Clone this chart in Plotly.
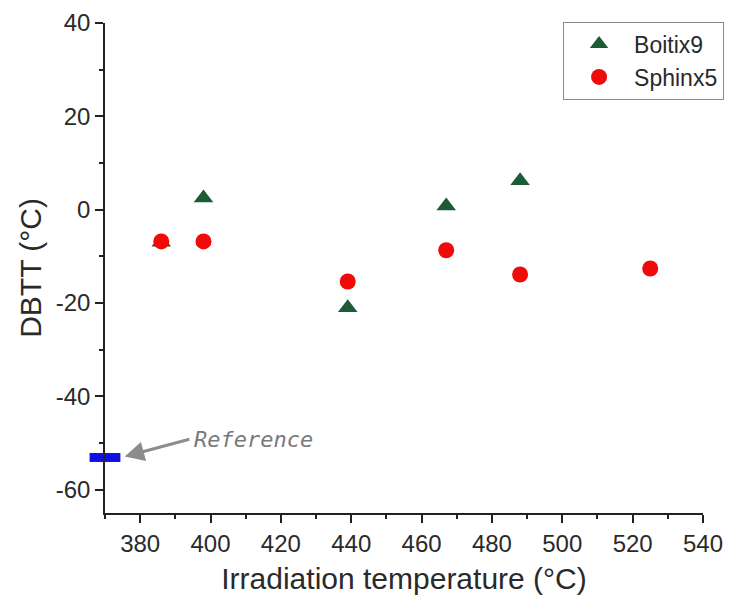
import plotly.graph_objects as go

# Data
boitix_temp = [386, 398, 439, 467, 488]
boitix_dbtt = [-7.0, 2.5, -21.0, 0.8, 6.2]

sphinx_temp = [386, 398, 439, 467, 488, 525]
sphinx_dbtt = [-6.8, -6.8, -15.4, -8.7, -13.9, -12.6]

reference_temp = [370]
reference_dbtt = [-53.1]

x_ticks = [380, 400, 420, 440, 460, 480, 500, 520, 540]
x_tick_labels = ["380", "400", "420", "440", "460", "480", "500", "520", "540"]
y_ticks = [-60, -40, -20, 0, 20, 40]
y_tick_labels = ["-60", "-40", "-20", "0", "20", "40"]

x_title = "Irradiation temperature (°C)"
y_title = "DBTT (°C)"

FONT = "Liberation Sans, Arial, sans-serif"

fig = go.Figure()

fig.add_trace(go.Scatter(
    x=boitix_temp, y=boitix_dbtt, mode="markers", name="Boitix9",
    marker=dict(symbol="triangle-up", size=17, color="#1d5a36"),
))
fig.add_trace(go.Scatter(
    x=sphinx_temp, y=sphinx_dbtt, mode="markers", name="Sphinx5",
    marker=dict(symbol="circle", size=16, color="#f00a0a"),
))
fig.add_trace(go.Scatter(
    x=reference_temp, y=reference_dbtt, mode="markers", name="Reference",
    showlegend=False, cliponaxis=False,
    marker=dict(symbol="line-ew", size=22, color="#1010e6",
                line=dict(color="#1010e6", width=9)),
))

# Arrow and label for the reference point
fig.add_annotation(
    x=375.6, y=-52.9, ax=394.4, ay=-49.1, axref="x", ayref="y",
    text="", showarrow=True, arrowhead=2, arrowsize=1.3, arrowwidth=3,
    arrowcolor="#8c8c8c",
)
fig.add_annotation(
    x=394.6, y=-49.3, text="<i>Reference</i>", showarrow=False,
    xanchor="left", yanchor="middle",
    font=dict(family="DejaVu Sans Mono", size=22, color="#7a7a7a"),
)

axis_common = dict(
    showline=True, linecolor="#222222", linewidth=1.5,
    ticks="outside", ticklen=8, tickwidth=1.5, tickcolor="#222222",
    showgrid=False, zeroline=False, automargin=False,
    tickfont=dict(family=FONT, size=24, color="#2a2a2a"),
    minor=dict(ticks="outside", ticklen=4, tickwidth=1.5, tickcolor="#222222", dtick=10),
)

fig.update_xaxes(
    range=[370, 540], tickmode="array", tickvals=x_ticks, ticktext=x_tick_labels,
    title=dict(text=x_title, font=dict(family=FONT, size=30, color="#2a2a2a"), standoff=12),
    **axis_common,
)
fig.update_yaxes(
    range=[-65, 40], tickmode="array", tickvals=y_ticks, ticktext=y_tick_labels,
    title=dict(text=y_title, font=dict(family=FONT, size=30, color="#2a2a2a"), standoff=5),
    **axis_common,
)

fig.update_layout(
    width=736, height=603,
    margin=dict(l=105, r=24, t=23, b=90),
    plot_bgcolor="white", paper_bgcolor="white",
    showlegend=True,
    legend=dict(
        x=0.766, y=1.003, xanchor="left", yanchor="top",
        bordercolor="#8a8a8a", borderwidth=1, bgcolor="white",
        font=dict(family=FONT, size=23, color="#2a2a2a"),
        itemwidth=60,
    ),
)

fig.write_html("out.html")
